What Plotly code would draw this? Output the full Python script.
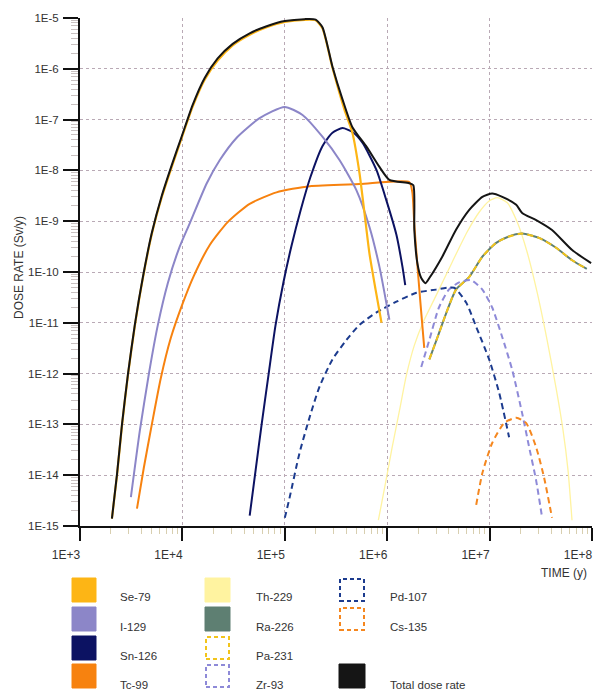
import plotly.graph_objects as go

# ---------------- data ----------------
x_tick_vals = [1e3, 1e4, 1e5, 1e6, 1e7, 1e8]
x_tick_text = ["1E+3", "1E+4", "1E+5", "1E+6", "1E+7", "1E+8"]
y_tick_vals = [1e-15, 1e-14, 1e-13, 1e-12, 1e-11, 1e-10, 1e-9, 1e-8, 1e-7, 1e-6, 1e-5]
y_tick_text = ["1E-15", "1E-14", "1E-13", "1E-12", "1E-11", "1E-10", "1E-9", "1E-8", "1E-7", "1E-6", "1E-5"]

th229_t = [8.2e5, 9.6e5, 1.12e6, 1.32e6, 1.54e6, 1.84e6, 2.25e6, 2.95e6, 4.32e6, 6.05e6, 7.9e6, 9.9e6, 1.19e7, 1.49e7, 1.86e7, 2.32e7, 2.91e7, 3.64e7, 4.46e7, 5.21e7, 5.83e7, 6.38e7]
th229_d = [1.3e-15, 6.8e-15, 3.6e-14, 1.9e-13, 9.3e-13, 3.6e-12, 1.04e-11, 3.2e-11, 1.58e-10, 6.2e-10, 1.5e-9, 2.5e-9, 2.9e-9, 2.3e-9, 9.6e-10, 2.5e-10, 4.0e-11, 4.6e-12, 5.2e-13, 7.8e-14, 1.26e-14, 1.3e-15]

ra226_t = [2.58e6, 3.1e6, 3.77e6, 4.7e6, 6.3e6, 8.5e6, 1.15e7, 1.5e7, 2.08e7, 3.04e7, 4.46e7, 6.4e7, 8.9e7]
ra226_d = [1.9e-12, 5.2e-12, 1.55e-11, 4.5e-11, 7.9e-11, 2.0e-10, 3.7e-10, 4.9e-10, 5.7e-10, 4.7e-10, 3.0e-10, 1.7e-10, 1.15e-10]

pa231_t = [2.58e6, 3.1e6, 3.77e6, 4.7e6, 6.3e6, 8.5e6, 1.15e7, 1.5e7, 2.08e7, 3.04e7, 4.46e7, 6.4e7, 8.9e7]
pa231_d = [1.9e-12, 5.2e-12, 1.55e-11, 4.5e-11, 7.9e-11, 2.0e-10, 3.7e-10, 4.9e-10, 5.7e-10, 4.7e-10, 3.0e-10, 1.7e-10, 1.15e-10]

zr93_t = [2.15e6, 2.58e6, 3.2e6, 4.0e6, 5.1e6, 6.6e6, 8.5e6, 1.06e7, 1.33e7, 1.66e7, 2.08e7, 2.43e7, 2.84e7, 3.26e7]
zr93_d = [1.35e-12, 4.6e-12, 2e-11, 4.5e-11, 6.3e-11, 6.9e-11, 4.5e-11, 2e-11, 5.2e-12, 1.2e-12, 1.65e-13, 3.6e-14, 8.1e-15, 1.45e-15]

pd107_t = [1.0e5, 1.11e5, 1.39e5, 1.75e5, 2.18e5, 2.92e5, 4.0e5, 5.36e5, 7.86e5, 1.23e6, 1.93e6, 3.0e6, 4.5e6, 5.9e6, 7.4e6, 9.9e6, 1.24e7, 1.55e7]
pd107_d = [1.45e-15, 3.5e-15, 2.7e-14, 1.4e-13, 5.5e-13, 1.9e-12, 4.6e-12, 9.1e-12, 1.6e-11, 2.6e-11, 3.9e-11, 4.5e-11, 4.9e-11, 2.5e-11, 8.3e-12, 1.9e-12, 4.2e-13, 5.6e-14]

cs135_t = [7.4e6, 8.5e6, 1.06e7, 1.39e7, 1.82e7, 2.27e7, 2.84e7, 3.4e7, 4.07e7]
cs135_d = [2.6e-15, 1.1e-14, 4.3e-14, 1.07e-13, 1.35e-13, 1.07e-13, 3.6e-14, 9.1e-15, 1.45e-15]

tc99_t = [3.6e3, 4.2e3, 5.03e3, 6.15e3, 7.7e3, 9.9e3, 1.29e4, 1.85e4, 2.77e4, 4.54e4, 8.3e4, 1.75e5, 5.36e5, 1.64e6, 1.76e6, 1.84e6, 1.97e6, 2.1e6, 2.3e6]
tc99_d = [2.2e-15, 1.4e-14, 1.0e-13, 8.1e-13, 5.0e-12, 2.2e-11, 8.3e-11, 3.4e-10, 9.6e-10, 2.2e-9, 3.7e-9, 4.9e-9, 5.4e-9, 5.9e-9, 3.7e-9, 8.5e-10, 1.4e-10, 2.8e-11, 3.2e-12]

sn126_t = [4.54e4, 5.19e4, 5.94e4, 6.95e4, 8.1e4, 9.7e4, 1.16e5, 1.43e5, 1.78e5, 2.33e5, 2.92e5, 3.66e5, 4.58e5, 5.73e5, 7.85e5, 9.8e5, 1.23e6, 1.41e6, 1.5e6]
sn126_d = [1.6e-15, 1.26e-14, 1.0e-13, 9.8e-13, 8.7e-12, 6.3e-11, 3.2e-10, 1.66e-9, 7.4e-9, 3.0e-8, 5.5e-8, 6.8e-8, 5.7e-8, 3.5e-8, 1.02e-8, 2.6e-9, 5.4e-10, 1.26e-10, 5.5e-11]

i129_t = [3.14e3, 3.85e3, 4.71e3, 5.76e3, 7.2e3, 9.2e3, 1.18e4, 1.73e4, 2.32e4, 3.39e4, 5.68e4, 9.96e4, 1.49e5, 2.33e5, 3.42e5, 5.0e5, 6.7e5, 8.4e5, 1.05e6]
i129_d = [3.7e-15, 7.8e-14, 1.0e-12, 9.1e-12, 6.0e-11, 2.8e-10, 9.1e-10, 5.6e-9, 1.6e-8, 4.4e-8, 1.07e-7, 1.78e-7, 1.23e-7, 4.6e-8, 1.6e-8, 4.1e-9, 7.8e-10, 1.26e-10, 1.15e-11]

se79_t = [2.05e3, 2.3e3, 2.57e3, 2.94e3, 3.43e3, 4.11e3, 5.03e3, 6.3e3, 7.9e3, 9.9e3, 1.26e4, 1.65e4, 2.21e4, 3.1e4, 4.54e4, 6.65e4, 1.0e5, 1.56e5, 2.0e5, 2.33e5, 2.92e5, 3.83e5, 4.57e5, 5.36e5, 6.0e5, 6.7e5, 7.7e5, 8.8e5]
se79_d = [1.4e-15, 1.0e-14, 9.5e-14, 9.3e-13, 8.6e-12, 7.5e-11, 5.6e-10, 3.0e-9, 1.2e-8, 4.5e-8, 1.8e-7, 6.1e-7, 1.45e-6, 2.9e-6, 4.7e-6, 6.6e-6, 8.4e-6, 9.2e-6, 9.0e-6, 6.3e-6, 1.05e-6, 1.55e-7, 5.5e-8, 8.9e-9, 1.45e-9, 2.35e-10, 4.5e-11, 1e-11]

total_t = [2.05e3, 2.3e3, 2.57e3, 2.94e3, 3.43e3, 4.11e3, 5.03e3, 6.3e3, 7.9e3, 9.9e3, 1.26e4, 1.65e4, 2.21e4, 3.1e4, 4.54e4, 6.65e4, 1.0e5, 1.56e5, 2.0e5, 2.33e5, 2.92e5, 3.66e5, 4.57e5, 6.3e5, 8.4e5, 1.05e6, 1.64e6, 1.8e6, 1.84e6, 1.97e6, 2.15e6, 2.36e6, 2.58e6, 3.45e6, 4.7e6, 6.3e6, 8.5e6, 1.06e7, 1.33e7, 1.82e7, 2.08e7, 2.85e7, 4.07e7, 6.4e7, 9.8e7]
total_d = [1.4e-15, 1.06e-14, 1.0e-13, 9.8e-13, 9.1e-12, 7.9e-11, 5.9e-10, 3.2e-9, 1.3e-8, 4.8e-8, 1.95e-7, 6.6e-7, 1.6e-6, 3.1e-6, 5.0e-6, 6.9e-6, 8.7e-6, 9.5e-6, 9.3e-6, 6.6e-6, 1.1e-6, 2.5e-7, 7.1e-8, 2.9e-8, 1.17e-8, 6.5e-9, 5.6e-9, 5.1e-9, 6.8e-10, 1.5e-10, 7.6e-11, 6e-11, 7.6e-11, 2e-10, 6.8e-10, 1.66e-9, 3e-9, 3.5e-9, 3e-9, 2.1e-9, 1.45e-9, 1.05e-9, 6.7e-10, 2.7e-10, 1.5e-10]

# ---------------- styling ----------------
FONT = "Arial, Liberation Sans, sans-serif"
TXT = "#333333"
C_SE = "#FDB515"
C_I = "#8C86C8"
C_SN = "#0C1262"
C_TC = "#F7820F"
C_TH = "#FFF3A0"
C_RA = "#5E7F72"
C_PA = "#F2C41B"
C_ZR = "#8E8AD8"
C_PD = "#1C3B8E"
C_CS = "#F5871F"
C_TOT = "#151515"
DASH = "6px,4px"

W, H = 594, 694
L, R, T, B = 80, 2, 18, 168
PW, PH = W - L - R, H - T - B


def px(x):
    return (x - L) / PW


def py(y):
    return (H - B - y) / PH


fig = go.Figure()


def add(t, d, color, width=2, dash="solid"):
    fig.add_trace(go.Scatter(x=t, y=d, mode="lines", showlegend=False, hoverinfo="skip",
                             line=dict(color=color, width=width, dash=dash, shape="spline", smoothing=0.6)))


add(th229_t, th229_d, C_TH, 1.3)
add(ra226_t, ra226_d, C_RA, 2)
add(pa231_t, pa231_d, C_PA, 2, DASH)
add(zr93_t, zr93_d, C_ZR, 2, DASH)
add(pd107_t, pd107_d, C_PD, 2, DASH)
add(cs135_t, cs135_d, C_CS, 2, DASH)
add(tc99_t, tc99_d, C_TC, 2)
add(sn126_t, sn126_d, C_SN, 2)
add(i129_t, i129_d, C_I, 2)
add(se79_t, se79_d, C_SE, 2.2)
add(total_t, total_d, C_TOT, 2)

minor_x = [k * 10 ** e for e in range(3, 8) for k in range(2, 10)]
minor_y = [k * 10 ** e for e in range(-15, -5) for k in range(2, 10)]

fig.update_xaxes(type="log", range=[3, 8], tickmode="array", tickvals=x_tick_vals, ticktext=x_tick_text,
                 ticks="outside", ticklen=13, tickwidth=2, tickcolor="#111",
                 showline=True, linecolor="#111", linewidth=2, mirror=False,
                 showgrid=True, gridcolor="#b9a9b5", griddash="dot", gridwidth=1,
                 zeroline=False, ticklabelshift=-14, ticklabelstandoff=4,
                 tickfont=dict(family=FONT, size=12, color=TXT),
                 minor=dict(tickmode="array", tickvals=minor_x, ticks="outside", ticklen=6,
                            tickcolor="#d8cfb0", tickwidth=1, showgrid=False))
fig.update_yaxes(type="log", range=[-15, -5], tickmode="array", tickvals=y_tick_vals, ticktext=y_tick_text,
                 ticks="outside", ticklen=15, tickwidth=2, tickcolor="#111",
                 showline=True, linecolor="#111", linewidth=2, mirror=False,
                 showgrid=True, gridcolor="#b9a9b5", griddash="dot", gridwidth=1,
                 zeroline=False, ticklabelstandoff=2,
                 tickfont=dict(family=FONT, size=11.5, color=TXT),
                 minor=dict(tickmode="array", tickvals=minor_y, ticks="outside", ticklen=7,
                            tickcolor="#c8c0c0", tickwidth=1, showgrid=False))

annotations = [
    dict(text="TIME (y)", x=px(589), y=py(573), xref="paper", yref="paper", xanchor="right", yanchor="middle",
         showarrow=False, font=dict(family=FONT, size=12, color=TXT)),
    dict(text="DOSE RATE (Sv/y)", x=px(19), y=py(268), xref="paper", yref="paper", xanchor="center",
         yanchor="middle", textangle=-90, showarrow=False, font=dict(family=FONT, size=12, color=TXT)),
]

# legend: (label, kind, color, column, row)
legend_items = [
    ("Se-79", "fill", C_SE, 0, 0),
    ("I-129", "fill", C_I, 0, 1),
    ("Sn-126", "fill", C_SN, 0, 2),
    ("Tc-99", "fill", C_TC, 0, 3),
    ("Th-229", "fill", C_TH, 1, 0),
    ("Ra-226", "fill", C_RA, 1, 1),
    ("Pa-231", "dash", C_PA, 1, 2),
    ("Zr-93", "dash", C_ZR, 1, 3),
    ("Pd-107", "dash", C_PD, 2, 0),
    ("Cs-135", "dash", C_CS, 2, 1),
    ("Total dose rate", "fill", C_TOT, 2, 3),
]
col_sq = [(72, 96), (205, 230), (339, 365)]
col_txt = [118, 254, 388]
row_sq = [(578, 602), (607, 631), (636, 660), (664, 688)]
row_txt = [597, 627, 656, 685]

shapes = []
for label, kind, color, c, r in legend_items:
    x0, x1 = col_sq[c]
    y0, y1 = row_sq[r]
    if kind == "fill":
        shapes.append(dict(type="rect", xref="paper", yref="paper", x0=px(x0), x1=px(x1), y0=py(y1), y1=py(y0),
                           fillcolor=color, line=dict(color=color, width=1), layer="above"))
    else:
        shapes.append(dict(type="rect", xref="paper", yref="paper", x0=px(x0 + 1), x1=px(x1 - 1), y0=py(y1 - 1),
                           y1=py(y0 + 1), fillcolor="rgba(0,0,0,0)", line=dict(color=color, width=2, dash="4px,3px"),
                           layer="above"))
    annotations.append(dict(text=label, x=px(col_txt[c]), y=py(row_txt[r]), xref="paper", yref="paper",
                            xanchor="left", yanchor="middle", showarrow=False,
                            font=dict(family=FONT, size=11.5, color=TXT)))

fig.update_layout(width=W, height=H, margin=dict(l=L, r=R, t=T, b=B, pad=0),
                  paper_bgcolor="white", plot_bgcolor="white", showlegend=False,
                  annotations=annotations, shapes=shapes)

fig.write_html("out.html", config={"displayModeBar": False},
               post_script="document.body.style.margin='0px';")
